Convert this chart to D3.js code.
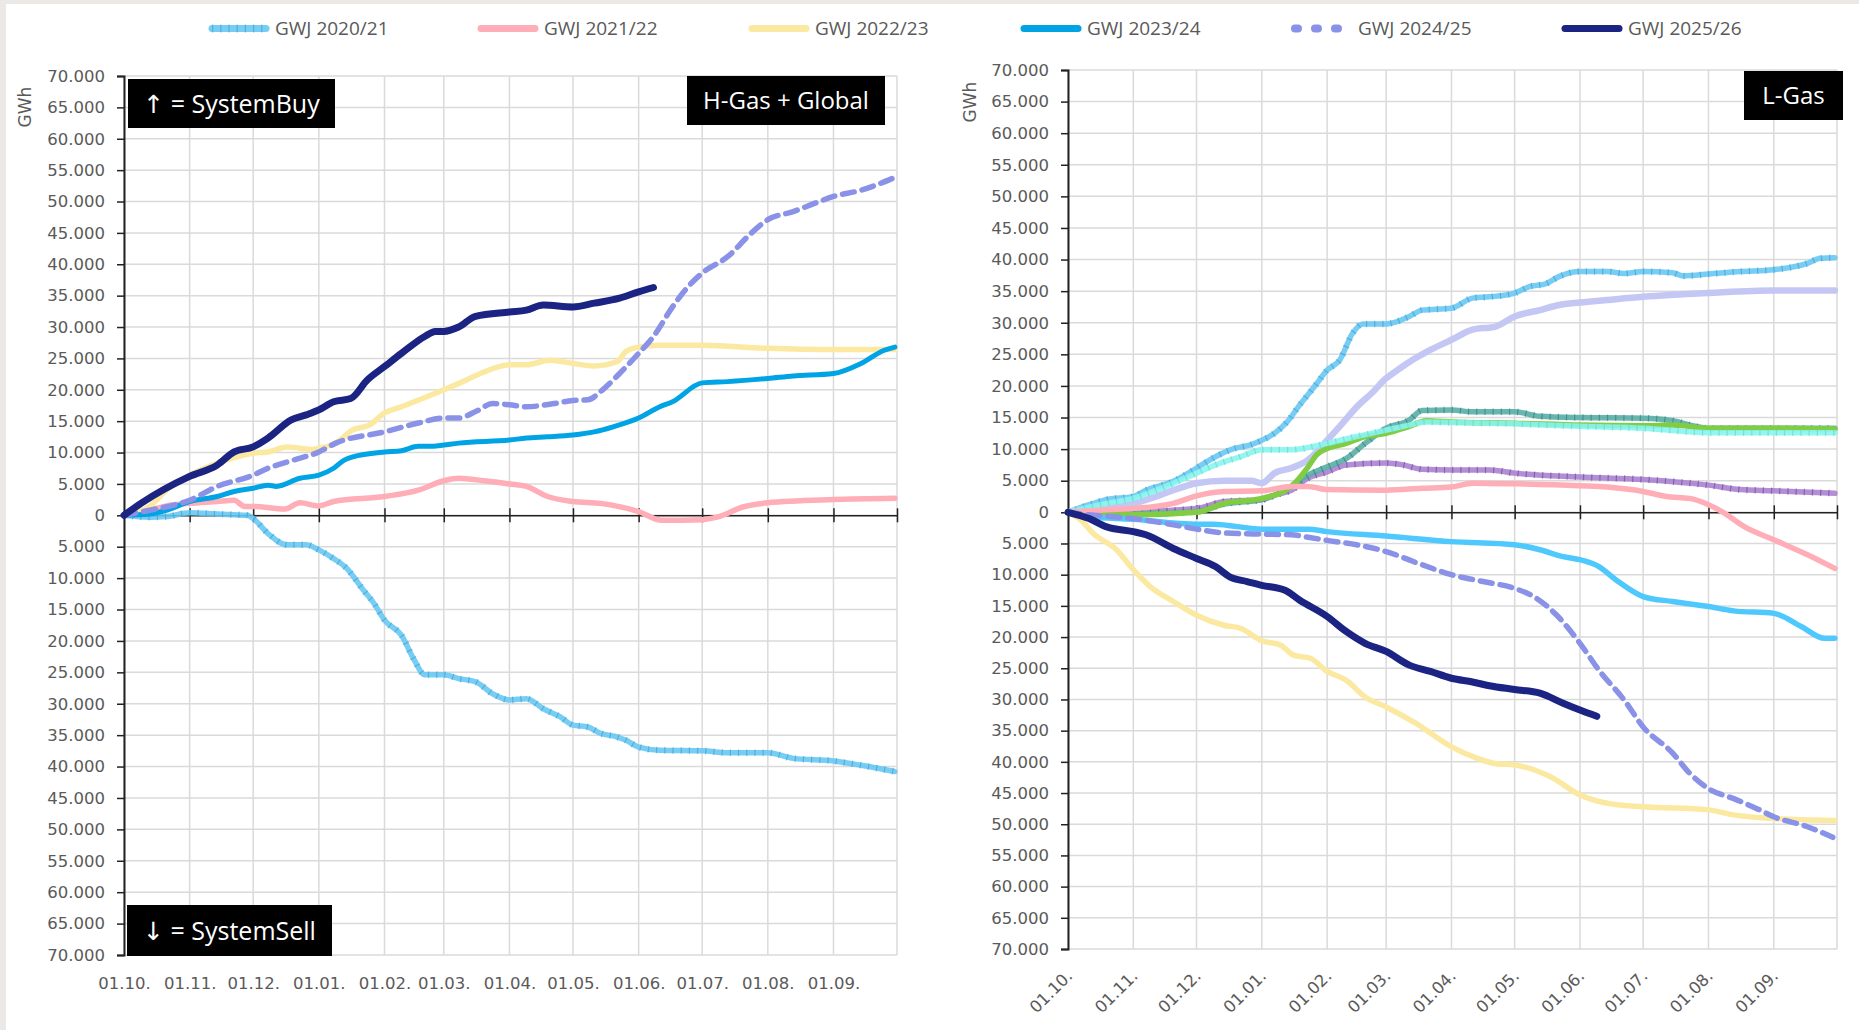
<!DOCTYPE html>
<html>
<head>
<meta charset="utf-8">
<script src="https://cdn.jsdelivr.net/npm/d3@7"></script>
<style>
  body { margin: 0; background: #fff; }
  .tick text { font-family: "DejaVu Sans", Verdana, sans-serif; font-size: 16.5px; fill: #5a5a5a; }
  .legend text { font-family: "Open Sans", "Noto Sans", sans-serif; font-size: 19px; fill: #595959; }
  .box text { font-family: "Open Sans", "Noto Sans", "DejaVu Sans", sans-serif; fill: #fff; }
</style>
</head>
<body>
<svg id="chart" width="1859" height="1030"></svg>
<script>
// gas year runs 01.10. -> 30.09., points are [day since 01.10., GWh], sell side negative
var legendNames = ['GWJ 2020/21', 'GWJ 2021/22', 'GWJ 2022/23', 'GWJ 2023/24', 'GWJ 2024/25', 'GWJ 2025/26'];
var yTicks = [-70000, -65000, -60000, -55000, -50000, -45000, -40000, -35000, -30000, -25000, -20000,
  -15000, -10000, -5000, 0, 5000, 10000, 15000, 20000, 25000, 30000, 35000, 40000, 45000, 50000,
  55000, 60000, 65000, 70000];

// H-Gas + Global
var hGas2021 = [[0,0],[12,-300],[20,-200],[31,400],[44,200],[58,0],[61,-500],[68,-2900],[77,-4700],[86,-4700],
  [92,-5500],[99,-6900],[105,-8400],[113,-11900],[118,-14000],[123,-16700],[131,-19100],[137,-23000],[142,-25400],
  [151,-25400],[158,-26000],[166,-26500],[174,-28400],[182,-29400],[190,-29200],[198,-30800],[206,-32100],
  [212,-33400],[219,-33700],[225,-34700],[233,-35300],[237,-35800],[243,-36900],[253,-37400],[273,-37500],
  [285,-37800],[304,-37800],[316,-38700],[335,-39100],[348,-39800],[364,-40800]];
var hGas2122 = [[0,0],[12,800],[20,1500],[31,1900],[44,2200],[52,2400],[57,1400],[61,1400],[76,1000],[83,2000],
  [92,1500],[99,2200],[123,3000],[139,4000],[151,5500],[158,5900],[170,5500],[182,5000],[190,4600],[200,3000],
  [212,2200],[225,1900],[243,600],[254,-800],[273,-700],[280,-300],[293,1400],[304,2000],[335,2500],[364,2700]];
var hGas2223 = [[0,0],[12,1400],[20,4000],[31,6400],[44,8300],[61,9900],[68,10100],[77,10900],[83,10700],
  [89,10500],[92,10700],[100,11500],[108,13600],[116,14400],[123,16300],[131,17300],[143,18900],[151,20000],
  [158,21000],[167,22400],[182,24000],[190,24000],[201,24700],[212,24200],[222,23800],[233,24500],[237,26100],
  [243,26800],[253,27100],[273,27100],[304,26600],[335,26400],[364,26400]];
var hGas2324 = [[0,0],[12,200],[20,800],[31,2200],[44,3000],[52,3800],[61,4300],[68,4800],[72,4600],[83,5900],
  [92,6400],[99,7500],[104,8800],[108,9300],[123,10100],[131,10300],[139,11000],[146,11000],[151,11200],
  [158,11500],[182,12000],[190,12300],[200,12500],[212,12800],[222,13300],[231,14100],[243,15500],[253,17300],
  [259,18100],[273,21100],[285,21300],[304,21800],[316,22200],[335,22600],[348,24200],[359,26300],[364,26800]];
var hGas2425 = [[0,0],[12,800],[31,2400],[44,4600],[61,6400],[68,7500],[80,8800],[92,10100],[100,11500],
  [123,13300],[139,14700],[151,15500],[158,15500],[167,16700],[174,17800],[182,17600],[190,17300],[203,17800],
  [212,18300],[219,18400],[226,20000],[234,22600],[243,25800],[250,28500],[259,33200],[265,35900],[273,38600],
  [285,41200],[296,44900],[304,47100],[316,48400],[326,49700],[335,50800],[348,51800],[363,53700]];
var hGas2526 = [[0,0],[8,1900],[31,6200],[44,8000],[52,10100],[61,10900],[68,12300],[79,15200],[86,16000],
  [92,16800],[99,18100],[107,18600],[115,21600],[123,23700],[131,25800],[142,28500],[147,29300],[151,29300],
  [158,30000],[166,31700],[182,32400],[190,32700],[198,33500],[212,33200],[222,33800],[234,34600],[243,35600],
  [250,36300]];

// L-Gas
var lGasBlueHatch = [[0,0],[10,1200],[18,2000],[31,2500],[37,3500],[50,4900],[61,7000],[70,8800],[79,10100],
  [87,10700],[92,11400],[98,12500],[104,14300],[110,17000],[117,19900],[123,22500],[129,24100],[135,28300],
  [140,29800],[151,29800],[153,29900],[162,31000],[168,32000],[182,32300],[192,33900],[200,34100],[212,34700],
  [219,35700],[227,36200],[233,37300],[243,38100],[256,38100],[264,37800],[273,38100],[287,37900],[292,37400],
  [304,37700],[319,38100],[335,38400],[351,39400],[357,40200],[364,40300]];
var lGasLavender = [[0,0],[18,900],[31,1400],[42,2500],[50,3500],[61,4600],[74,5000],[87,5000],[92,4600],
  [98,6200],[106,7000],[114,8300],[123,11400],[129,13600],[138,17000],[144,18800],[151,21200],[153,21700],
  [162,23800],[172,25700],[182,27300],[192,28900],[203,29400],[212,31000],[224,32000],[233,32800],[243,33200],
  [256,33600],[273,34100],[304,34700],[335,35100],[364,35100]];
var lGasTeal = [[0,0],[31,-200],[61,100],[74,1300],[92,2000],[106,4100],[114,5900],[123,7200],[132,8500],
  [141,10900],[151,13300],[162,14600],[168,16100],[182,16200],[192,15900],[212,15900],[224,15200],[243,15000],
  [273,14900],[287,14500],[298,13600],[304,13300],[335,13300],[364,13300]];
var lGasGreen = [[0,0],[31,-400],[61,0],[74,1400],[92,2200],[106,4100],[114,7200],[118,9100],[123,10100],
  [132,10900],[141,12000],[151,12500],[162,13600],[170,14500],[182,14300],[212,14100],[243,13800],[273,13700],
  [287,13800],[304,13300],[335,13300],[364,13200]];
var lGasCyan = [[0,0],[18,1400],[31,2200],[42,3500],[61,6200],[70,7500],[82,8800],[92,9900],[106,9900],
  [123,10900],[137,12000],[151,13000],[162,13800],[170,14300],[182,14200],[212,14000],[243,13600],[273,13300],
  [304,12600],[335,12600],[364,12600]];
var lGasPurple = [[0,0],[31,100],[61,600],[74,1700],[92,2000],[98,2700],[106,3500],[114,5400],[123,6400],
  [132,7500],[151,7800],[159,7500],[168,6800],[182,6700],[200,6700],[212,6200],[243,5600],[273,5200],
  [304,4300],[319,3600],[335,3400],[364,3000]];
var lGasPink = [[0,0],[18,400],[31,600],[50,1400],[61,2600],[74,3300],[92,3400],[106,4100],[114,4100],
  [123,3600],[151,3500],[168,3800],[182,4000],[192,4600],[212,4500],[243,4200],[256,4000],[273,3300],
  [284,2500],[295,2200],[304,1200],[311,0],[321,-2300],[335,-4400],[351,-6800],[364,-9000]];
var lGasYellow = [[0,0],[6,-1200],[12,-3400],[23,-6000],[31,-9200],[39,-11900],[50,-14300],[61,-16500],
  [74,-18100],[82,-18600],[92,-20600],[101,-21300],[107,-22900],[115,-23400],[123,-25500],[132,-26900],
  [141,-29600],[151,-31200],[165,-33800],[182,-37600],[194,-39400],[203,-40300],[212,-40500],[229,-42400],
  [243,-45300],[257,-46700],[273,-47200],[304,-47700],[316,-48500],[335,-49100],[364,-49400]];
var lGasLightBlue = [[0,0],[10,-700],[31,-1100],[61,-1900],[69,-1900],[92,-2700],[114,-2700],[123,-3100],
  [151,-3800],[182,-4700],[212,-5200],[224,-6000],[235,-7100],[243,-7600],[252,-8700],[260,-10800],
  [273,-13500],[287,-14300],[304,-15100],[316,-15800],[335,-16200],[348,-18300],[359,-20200],[364,-20200]];
var lGasDashed = [[0,0],[10,-400],[31,-1000],[50,-2000],[61,-2700],[74,-3300],[92,-3500],[106,-3600],
  [114,-4000],[123,-4500],[137,-5200],[151,-6300],[168,-8400],[182,-10000],[197,-11100],[212,-12200],
  [221,-13500],[232,-16500],[243,-21000],[252,-25300],[264,-30100],[273,-34400],[287,-38600],[295,-41800],
  [304,-44300],[316,-45900],[327,-47500],[335,-48800],[351,-50400],[363,-52100]];
var lGasNavy = [[0,0],[10,-1000],[18,-2300],[31,-3100],[37,-3600],[50,-5800],[61,-7400],[70,-8700],
  [77,-10400],[85,-11100],[92,-11700],[103,-12500],[110,-14100],[123,-16700],[132,-19100],[141,-21000],
  [151,-22300],[162,-24500],[172,-25500],[182,-26600],[192,-27200],[200,-27800],[212,-28400],[224,-29000],
  [235,-30600],[243,-31700],[251,-32700]];

// line styles
var styles = {
  hatch:     { color: '#6ac8f1', tick: '#2a9fdb', width: 5.5 },
  pink:      { color: '#ffadb6', width: 5.5 },
  yellow:    { color: '#fbe9a2', width: 5.5 },
  blue:      { color: '#00a3e4', width: 5 },
  dashed:    { color: '#8a92e8', width: 5.5, dash: '12 8' },
  navy:      { color: '#1b2383', width: 7 },
  lightBlue: { color: '#4fc9fd', width: 5.5 },
  lavender:  { color: '#c4c7f4', width: 6.5 },
  teal:      { color: '#58aea6', tick: '#2a7b73', width: 5.5 },
  green:     { color: '#82cc44', width: 5.5 },
  cyan:      { color: '#8af4ed', tick: '#55d8d0', width: 5.5 },
  purple:    { color: '#aa82cf', tick: '#6d3f9b', width: 5.5 }
};

var leftSeries = [
  { data: hGas2021, style: 'hatch' },
  { data: hGas2122, style: 'pink' },
  { data: hGas2223, style: 'yellow' },
  { data: hGas2324, style: 'blue' },
  { data: hGas2425, style: 'dashed' },
  { data: hGas2526, style: 'navy' }
];
var rightSeries = [
  { data: lGasLavender, style: 'lavender' },
  { data: lGasBlueHatch, style: 'hatch' },
  { data: lGasPurple, style: 'purple' },
  { data: lGasTeal, style: 'teal' },
  { data: lGasGreen, style: 'green' },
  { data: lGasCyan, style: 'cyan' },
  { data: lGasPink, style: 'pink' },
  { data: lGasYellow, style: 'yellow' },
  { data: lGasLightBlue, style: 'lightBlue' },
  { data: lGasDashed, style: 'dashed' },
  { data: lGasNavy, style: 'navy' }
];
var legendStyles = ['hatch', 'pink', 'yellow', 'blue', 'dashed', 'navy'];

var startDate = new Date(2025, 9, 1);
var endDate = new Date(2026, 9, 1);
function dayToDate(d) { return d3.timeDay.offset(startDate, d); }

var de = d3.formatLocale({ decimal: ',', thousands: '.', grouping: [3], currency: ['', ' €'] });
var fmt = de.format(',.0f');

var svg = d3.select('#chart');

// grey frame of the screenshot
svg.append('rect').attr('x', 0).attr('y', 0).attr('width', 1859).attr('height', 1030).attr('fill', '#fff');
svg.append('rect').attr('x', 0).attr('y', 0).attr('width', 6).attr('height', 1030).attr('fill', '#ebe8e5');
svg.append('rect').attr('x', 0).attr('y', 0).attr('width', 1859).attr('height', 4).attr('fill', '#ebe8e5');

function drawLine(g, line, data, st) {
  var p = g.append('path')
    .attr('d', line(data))
    .attr('fill', 'none')
    .attr('stroke', st.color)
    .attr('stroke-width', st.width)
    .attr('stroke-linejoin', 'round')
    .attr('stroke-linecap', 'round');
  if (st.dash) p.attr('stroke-dasharray', st.dash);
  if (st.tick) {
    p.attr('stroke-opacity', 0.9);
    g.append('path')
      .attr('d', line(data))
      .attr('fill', 'none')
      .attr('stroke', st.tick)
      .attr('stroke-width', st.width + 1)
      .attr('stroke-opacity', 0.6)
      .attr('stroke-dasharray', '1.2 7');
  }
}

function drawPanel(cfg) {
  var g = svg.append('g');

  var x = d3.scaleTime().domain([startDate, endDate]).range([cfg.x0, cfg.x1]);
  var y = d3.scaleLinear().domain([-70000, 0, 70000]).range([cfg.yBottom, cfg.yZero, cfg.yTop]);
  var months = d3.timeMonth.range(startDate, d3.timeDay.offset(endDate, 1));

  // gridlines
  g.append('g').selectAll('line').data(yTicks).enter().append('line')
    .attr('x1', cfg.x0).attr('x2', cfg.x1)
    .attr('y1', function (d) { return y(d); }).attr('y2', function (d) { return y(d); })
    .attr('stroke', '#dadada').attr('stroke-width', 1.5);
  g.append('g').selectAll('line').data(months).enter().append('line')
    .attr('x1', function (d) { return x(d); }).attr('x2', function (d) { return x(d); })
    .attr('y1', cfg.yTop).attr('y2', cfg.yBottom)
    .attr('stroke', '#dadada').attr('stroke-width', 1.5);

  // y axis
  var yAxis = g.append('g')
    .attr('transform', 'translate(' + cfg.x0 + ',0)')
    .call(d3.axisLeft(y).tickValues(yTicks).tickSize(7).tickPadding(12)
      .tickFormat(function (d) { return fmt(Math.abs(d)); }));
  yAxis.select('.domain').attr('stroke', '#222').attr('stroke-width', 2);
  yAxis.selectAll('.tick line').attr('stroke', '#222').attr('stroke-width', 1.5);

  // zero line with crossing ticks
  var zeroAxis = g.append('g')
    .attr('transform', 'translate(0,' + y(0) + ')')
    .call(d3.axisBottom(x).tickValues(months.slice(1)).tickSize(7).tickSizeOuter(0).tickFormat(''));
  zeroAxis.select('.domain').attr('stroke', '#222').attr('stroke-width', 1.5);
  zeroAxis.selectAll('.tick line').attr('y1', -7).attr('stroke', '#222').attr('stroke-width', 1.5);

  // month labels
  var xAxis = g.append('g')
    .attr('transform', 'translate(0,' + cfg.yBottom + ')')
    .call(d3.axisBottom(x).tickValues(months.slice(0, 12)).tickSize(0).tickPadding(22)
      .tickFormat(d3.timeFormat('%d.%m.')));
  xAxis.select('.domain').remove();
  if (cfg.rotate) {
    xAxis.selectAll('.tick text')
      .attr('text-anchor', 'end')
      .attr('x', 5).attr('y', 28).attr('dy', 0)
      .attr('transform', 'rotate(-45,5,28)');
  }

  // unit
  g.append('text')
    .attr('transform', 'translate(' + cfg.unitX + ',' + cfg.unitY + ') rotate(-90)')
    .attr('text-anchor', 'middle')
    .attr('dy', '0.35em')
    .style('font-family', '"DejaVu Sans", sans-serif')
    .style('font-size', '17px')
    .style('fill', '#5a5a5a')
    .text('GWh');

  // series
  var line = d3.line()
    .x(function (d) { return x(dayToDate(d[0])); })
    .y(function (d) { return y(d[1]); })
    .curve(d3.curveMonotoneX);
  var sg = g.append('g');
  cfg.series.forEach(function (s) { drawLine(sg, line, s.data, styles[s.style]); });

  // black label boxes
  cfg.boxes.forEach(function (b) {
    var bg = g.append('g').attr('class', 'box');
    bg.append('rect').attr('x', b.x).attr('y', b.y).attr('width', b.w).attr('height', b.h).attr('fill', '#000');
    bg.append('text')
      .attr('x', b.x + b.w / 2).attr('y', b.y + b.h / 2)
      .attr('dy', '0.36em')
      .attr('text-anchor', 'middle')
      .style('font-size', b.size + 'px')
      .text(b.text);
  });
}

drawPanel({
  x0: 124, x1: 897, yTop: 76, yZero: 515.3, yBottom: 955,
  unitX: 25, unitY: 107, rotate: false,
  series: leftSeries,
  boxes: [
    { x: 128, y: 79, w: 207, h: 49, size: 25, text: '↑ = SystemBuy' },
    { x: 127, y: 905, w: 205, h: 51, size: 25, text: '↓ = SystemSell' },
    { x: 687, y: 76, w: 198, h: 49, size: 24, text: 'H-Gas + Global' }
  ]
});

drawPanel({
  x0: 1068, x1: 1837, yTop: 70, yZero: 512.3, yBottom: 949,
  unitX: 970, unitY: 102, rotate: true,
  series: rightSeries,
  boxes: [
    { x: 1744, y: 71, w: 99, h: 49, size: 24, text: 'L-Gas' }
  ]
});

// legend
var legendX = [208, 477, 748, 1020, 1291, 1561];
var lg = svg.append('g').attr('class', 'legend');
legendNames.forEach(function (name, i) {
  var st = styles[legendStyles[i]];
  var item = lg.append('g').attr('transform', 'translate(' + legendX[i] + ',28.5)');
  var sample = d3.line()([[4, 0], [58, 0]]);
  if (legendStyles[i] === 'dashed') {
    item.append('path').attr('d', sample).attr('stroke', st.color).attr('stroke-width', 8)
      .attr('stroke-linecap', 'round').attr('stroke-dasharray', '3 17');
  } else {
    drawLine(item, function (d) { return d3.line()(d); }, [[4, 0], [58, 0]],
      Object.assign({}, st, { width: 7 }));
  }
  item.append('text').attr('x', 67).attr('dy', '0.36em').text(name);
});
</script>
</body>
</html>
